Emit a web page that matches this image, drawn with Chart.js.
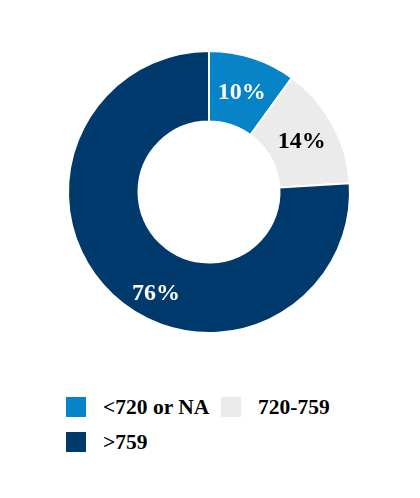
<!DOCTYPE html>
<html>
<head>
<meta charset="utf-8">
<script src="https://cdn.jsdelivr.net/npm/chart.js@4"></script>
<style>
  body { margin: 0; background: #fff; }
  #wrap { position: relative; width: 420px; height: 498px; }
  #chart { position: absolute; left: 0; top: 0; }
  .leg { position: absolute; font: bold 21.5px "Liberation Serif", "Times New Roman", serif; color: #000; }
  .leg span.box { position: absolute; width: 20px; height: 20px; left: 0; top: 0; }
  .leg span.txt { position: absolute; left: 37px; top: -3px; white-space: nowrap; line-height: 26px; }
</style>
</head>
<body>
<div id="wrap">
  <canvas id="chart" width="420" height="384"></canvas>
</div>
<script>
// buckets de score
let categorias = ['<720 or NA', '720-759', '>759'];
let valores = [10, 14, 76];
let cores = ['#0784C7', '#EBEBEB', '#003A6C'];
let corTexto = ['#fff', '#000', '#fff'];

// legenda feita a mão (duas colunas)
let legPos = [[66, 397], [221, 397], [66, 432]];
categorias.forEach((cat, i) => {
  let d = document.createElement('div');
  d.className = 'leg';
  d.style.left = legPos[i][0] + 'px';
  d.style.top = legPos[i][1] + 'px';
  d.innerHTML = '<span class="box" style="background:' + cores[i] + '"></span><span class="txt"></span>';
  d.querySelector('.txt').textContent = cat;
  document.getElementById('wrap').appendChild(d);
});

const rotulos = {
  id: 'rotulos',
  afterDatasetsDraw(chart) {
    let ctx = chart.ctx;
    let meta = chart.getDatasetMeta(0);
    ctx.save();
    ctx.font = 'bold 24px "Liberation Serif", serif';
    ctx.textAlign = 'center';
    ctx.textBaseline = 'middle';
    meta.data.forEach((arc, i) => {
      let p = arc.tooltipPosition();
      let span = arc.endAngle - arc.startAngle;
      if (span > Math.PI) {
        // fatia grande: rótulo mais pra baixo, como no original
        let ang = arc.startAngle + span * 0.444;
        let r = arc.innerRadius + (arc.outerRadius - arc.innerRadius) * 0.61;
        p = { x: arc.x + Math.cos(ang) * r, y: arc.y + Math.sin(ang) * r };
      }
      ctx.fillStyle = corTexto[i];
      ctx.fillText(valores[i] + '%', p.x, p.y + 1);
    });
    ctx.restore();
  }
};

let myChart = new Chart(document.getElementById('chart'), {
  type: 'doughnut',
  data: {
    labels: categorias,
    datasets: [{
      data: valores,
      backgroundColor: cores,
      borderColor: '#fff',
      borderWidth: 2
    }]
  },
  options: {
    responsive: false,
    animation: false,
    cutout: '50%',
    layout: { padding: { top: 50, bottom: 50, left: 0, right: 2 } },
    plugins: { legend: { display: false }, tooltip: { enabled: false } }
  },
  plugins: [rotulos]
});
</script>
</body>
</html>
